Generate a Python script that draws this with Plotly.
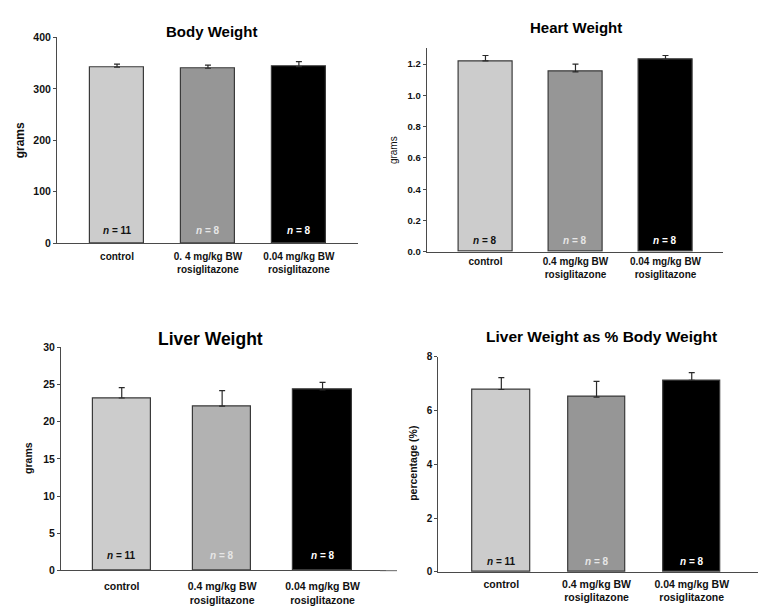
import plotly.graph_objects as go

# ---------------- data ----------------
labels_body = ["control", "0. 4 mg/kg BW<br>rosiglitazone", "0.04 mg/kg BW<br>rosiglitazone"]
labels_rest = ["control", "0.4 mg/kg BW<br>rosiglitazone", "0.04 mg/kg BW<br>rosiglitazone"]

body_mean = [342, 340, 343]
body_sem = [6, 6, 10]
body_n = [11, 8, 8]

heart_mean = [1.22, 1.15, 1.23]
heart_sem = [0.035, 0.05, 0.025]
heart_n = [8, 8, 8]

liver_mean = [23.2, 22.1, 24.3]
liver_sem = [1.4, 2.1, 1.0]
liver_n = [11, 8, 8]

pct_mean = [6.78, 6.50, 7.12]
pct_sem = [0.44, 0.58, 0.29]
pct_n = [11, 8, 8]

titles = ["Body Weight", "Heart Weight", "Liver Weight", "Liver Weight as % Body Weight"]
ytitles = ["grams", "grams", "grams", "percentage (%)"]

# ---------------- layout helpers ----------------
W, H = 763, 611
def fx(px):
    return px / W
def fy(py):
    return 1 - py / H

FONT = "Liberation Sans, Arial, sans-serif"
EDGE = "#3a3a3a"
AX = "#4a4a4a"

panels = [
    dict(labels=labels_body, mean=body_mean, sem=body_sem, n=body_n,
         colors=["#cccccc", "#969696", "#000000"],
         xd=(57, 358), yd=(242, 32), xr=(-0.66, 2.65), yr=(0, 400), dt=100, fmt="d",
         width=0.59, nshift=5, tickfs=10.5, xfs=10, lstand=4,
         title=(211, 26, 15), ytitle=(20, 137, 12, "bold"), ylen=3),
    dict(labels=labels_rest, mean=heart_mean, sem=heart_sem, n=heart_n,
         colors=["#cccccc", "#969696", "#000000"],
         xd=(426.7, 723), yd=(250.7, 43.3), xr=(-0.653, 2.639), yr=(0, 1.3), dt=0.2, fmt=".1f",
         width=0.604, nshift=4, tickfs=9.5, xfs=10, lstand=0,
         title=(576, 22, 15), ytitle=(393, 147, 10, "normal"), ylen=3),
    dict(labels=labels_rest, mean=liver_mean, sem=liver_sem, n=liver_n,
         colors=["#cccccc", "#b2b2b2", "#000000"],
         xd=(61, 386), yd=(575.7, 348.3), xr=(-0.605, 2.632), yr=(0, 30), dt=5, fmt="d",
         width=0.58, nshift=7, tickfs=10.5, xfs=10.5, lstand=6,
         title=(210, 340, 17.5), ytitle=(28, 461, 10.5, "bold"), ylen=3),
    dict(labels=labels_rest, mean=pct_mean, sem=pct_sem, n=pct_n,
         colors=["#cccccc", "#969696", "#000000"],
         xd=(438.3, 758), yd=(577.3, 357.7), xr=(-0.662, 2.696), yr=(0, 8), dt=2, fmt="d",
         width=0.60, nshift=3, tickfs=10, xfs=10.5, lstand=2,
         title=(601, 337, 15.5), ytitle=(413, 467, 10.5, "bold"), ylen=3),
]

n_colors = ["#111111", "#e6e6e6", "#ffffff"]

fig = go.Figure()
annotations = []
layout = dict(
    width=W, height=H, autosize=False,
    margin=dict(l=0, r=0, t=0, b=0),
    paper_bgcolor="white", plot_bgcolor="white",
    showlegend=False, bargap=0,
    font=dict(family=FONT, color="#111111"),
)

for i, p in enumerate(panels, start=1):
    xa = "x" if i == 1 else f"x{i}"
    ya = "y" if i == 1 else f"y{i}"
    fig.add_trace(go.Bar(
        x=p["labels"], y=p["mean"], xaxis=xa, yaxis=ya,
        width=p["width"],
        marker=dict(color=p["colors"], line=dict(color=EDGE, width=1.2)),
        error_y=dict(type="data", array=p["sem"], arrayminus=[0] * 3, symmetric=False,
                     color="#2a2a2a", thickness=1.2, width=3),
        hoverinfo="skip",
    ))
    xkey = "xaxis" if i == 1 else f"xaxis{i}"
    ykey = "yaxis" if i == 1 else f"yaxis{i}"
    layout[xkey] = dict(
        domain=[fx(p["xd"][0]), fx(p["xd"][1])], anchor=ya,
        type="category", range=list(p["xr"]),
        showline=True, linecolor=AX, linewidth=1, showgrid=False, zeroline=False,
        ticks="", ticklabelstandoff=p["lstand"],
        tickfont=dict(family=FONT, size=p["xfs"], weight="bold", color="#111111"),
        fixedrange=True,
    )
    layout[ykey] = dict(
        domain=[fy(p["yd"][0]), fy(p["yd"][1])], anchor=xa,
        range=list(p["yr"]), dtick=p["dt"], tick0=0, tickformat=p["fmt"],
        showline=True, linecolor=AX, linewidth=1, showgrid=False, zeroline=False,
        ticks="outside", ticklen=p["ylen"], tickcolor=AX, tickwidth=1,
        tickfont=dict(family=FONT, size=p["tickfs"], weight="bold", color="#111111"),
        fixedrange=True,
    )
    tx, ty, tfs = p["title"]
    annotations.append(dict(
        text=titles[i - 1], xref="paper", yref="paper", x=fx(tx), y=fy(ty),
        xanchor="center", yanchor="middle", showarrow=False,
        font=dict(family=FONT, size=tfs, weight="bold", color="#000000"),
    ))
    yx, yy, yfs, yw = p["ytitle"]
    annotations.append(dict(
        text=ytitles[i - 1], xref="paper", yref="paper", x=fx(yx), y=fy(yy),
        xanchor="center", yanchor="middle", showarrow=False, textangle=-90,
        font=dict(family=FONT, size=yfs, weight=yw, color="#111111"),
    ))
    for lab, nn, col in zip(p["labels"], p["n"], n_colors):
        annotations.append(dict(
            text=f"<i>n</i> = {nn}", xref=xa, yref=ya, x=lab, y=0,
            xanchor="center", yanchor="bottom", yshift=p["nshift"], showarrow=False,
            font=dict(family=FONT, size=10, weight="bold", color=col),
        ))

layout["annotations"] = annotations
layout["shapes"] = [
    dict(type="line", xref="paper", yref="paper",
         x0=fx(380), x1=fx(397), y0=fy(576), y1=fy(576),
         line=dict(color="#666666", width=1)),
]
fig.update_layout(**layout)
fig.write_html("out.html", config={"displayModeBar": False},
               post_script="document.body.style.margin='0';document.body.style.overflow='hidden';")
